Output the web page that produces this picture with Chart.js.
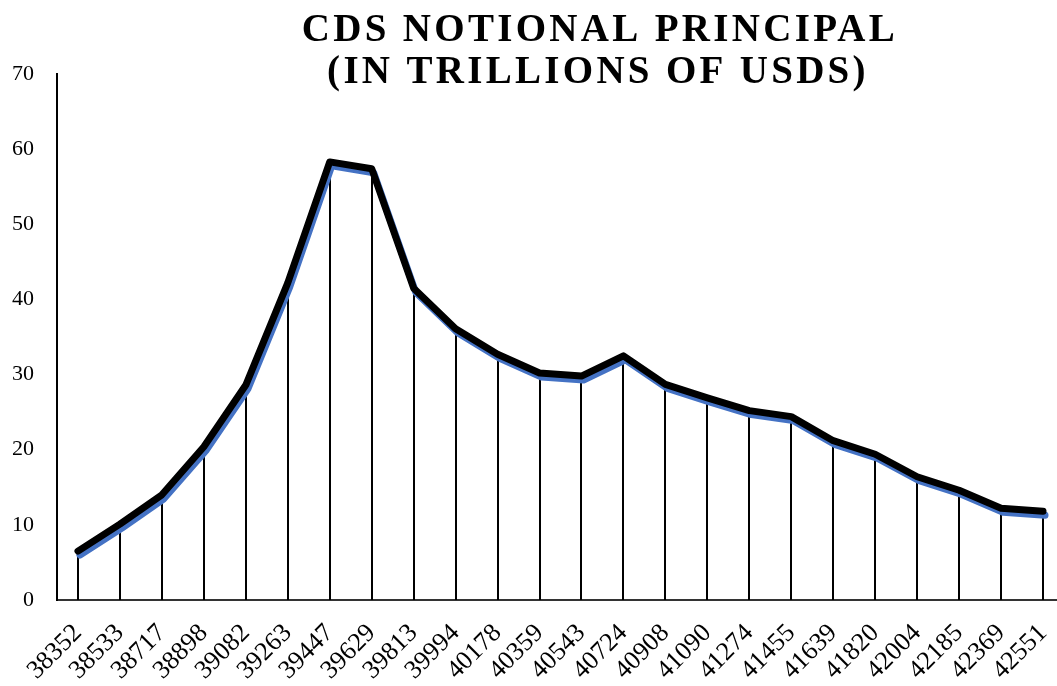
<!DOCTYPE html>
<html>
<head>
<meta charset="utf-8">
<script src="https://cdn.jsdelivr.net/npm/chart.js@4/dist/chart.umd.min.js"></script>
<style>
  html, body { margin: 0; padding: 0; background: #fff; overflow: hidden; }
  #wrap { width: 1072px; height: 686px; }
</style>
</head>
<body>
<div id="wrap"><canvas id="chart" width="1072" height="686"></canvas></div>
<script>
// dates (excel serials) and notional in trillions USD
const dates = ['38352','38533','38717','38898','39082','39263','39447','39629','39813','39994','40178','40359',
               '40543','40724','40908','41090','41274','41455','41639','41820','42004','42185','42369','42551'];
const notional = [6.5, 10.1, 14.0, 20.4, 28.6, 42.2, 58.3, 57.4, 41.5, 36.1, 32.7, 30.2,
                  29.8, 32.5, 28.7, 26.9, 25.2, 24.4, 21.2, 19.4, 16.4, 14.6, 12.2, 11.8];
const titleLines = ['CDS NOTIONAL PRINCIPAL', '(IN TRILLIONS OF USDS)'];

// vertical drop lines from each point down to the axis
const dropLines = {
  id: 'dropLines',
  beforeDatasetsDraw(chart) {
    const ctx = chart.ctx;
    const y0 = chart.scales.y.getPixelForValue(0);
    ctx.save();
    ctx.strokeStyle = '#000';
    ctx.lineWidth = 2;
    chart.getDatasetMeta(0).data.forEach(pt => {
      ctx.beginPath();
      ctx.moveTo(Math.round(pt.x), pt.y);
      ctx.lineTo(Math.round(pt.x), y0);
      ctx.stroke();
    });
    ctx.restore();
  }
};

// blue offset shadow under the black line
const lineShadow = {
  id: 'lineShadow',
  beforeDatasetDraw(chart) {
    const ctx = chart.ctx;
    ctx.save();
    ctx.shadowColor = '#4472C4';
    ctx.shadowBlur = 0;
    ctx.shadowOffsetX = 2;
    ctx.shadowOffsetY = 4;
  },
  afterDatasetDraw(chart) {
    chart.ctx.restore();
  }
};

const titlePlugin = {
  id: 'titleText',
  afterDraw(chart) {
    const ctx = chart.ctx;
    ctx.save();
    ctx.fillStyle = '#000';
    ctx.font = 'bold 39px "Liberation Serif", "Times New Roman", serif';
    ctx.letterSpacing = '3.3px';
    ctx.textAlign = 'center';
    ctx.textBaseline = 'alphabetic';
    ctx.fillText(titleLines[0], 600, 41);
    ctx.fillText(titleLines[1], 598, 83);
    ctx.restore();
  }
};

new Chart(document.getElementById('chart'), {
  type: 'line',
  data: {
    labels: dates,
    datasets: [{
      data: notional,
      borderColor: '#000',
      borderWidth: 7,
      borderCapStyle: 'round',
      borderJoinStyle: 'round',
      pointRadius: 0,
      tension: 0,
      fill: false
    }]
  },
  options: {
    responsive: false,
    animation: false,
    layout: { padding: { top: 74, right: 8, left: 0, bottom: 0 } },
    plugins: { legend: { display: false }, tooltip: { enabled: false }, title: { display: false } },
    scales: {
      x: {
        offset: true,
        grid: { display: false, drawTicks: false },
        border: { display: true, color: '#333', width: 2 },
        ticks: {
          color: '#000',
          font: { family: '"Liberation Serif", "Times New Roman", serif', size: 26 },
          minRotation: 45, maxRotation: 45,
          autoSkip: false,
          padding: 18
        },
        afterFit(scale) {
          scale.height = 86;
          scale.paddingLeft = 0;
          scale.paddingRight = 0;
        }
      },
      y: {
        min: 0, max: 70,
        grid: { display: false, drawTicks: false },
        border: { display: true, color: '#000', width: 2 },
        ticks: {
          stepSize: 10,
          color: '#000',
          font: { family: '"Liberation Serif", "Times New Roman", serif', size: 22 },
          padding: 23
        },
        afterFit(scale) { scale.width = 57; }
      }
    }
  },
  plugins: [dropLines, lineShadow, titlePlugin]
});
</script>
</body>
</html>
